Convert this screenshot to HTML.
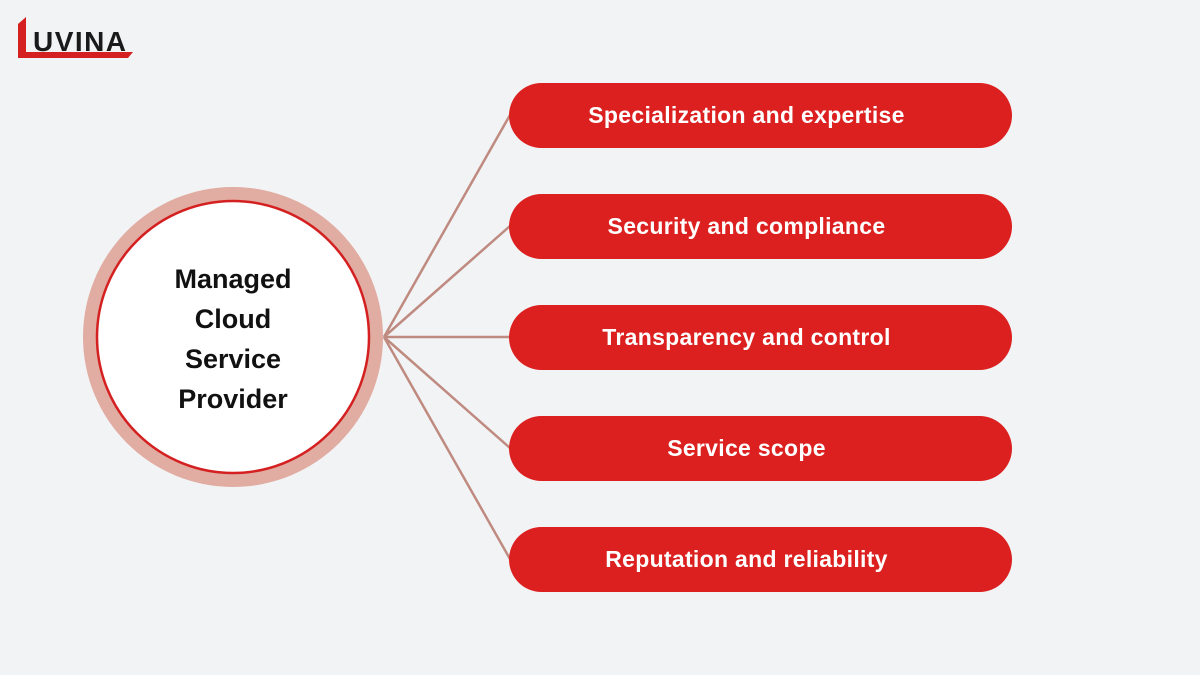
<!DOCTYPE html>
<html><head><style>
body{margin:0;width:1200px;height:675px;background:#f2f3f5;position:relative;overflow:hidden;font-family:"Liberation Sans",sans-serif}
.pill{position:absolute;left:509px;width:503px;height:65px;border-radius:33px;background:#dc1f1f;color:#fff;font-weight:bold;font-size:23px;display:flex;align-items:center;justify-content:center;letter-spacing:0.3px;box-sizing:border-box;padding-right:28px}
</style></head><body>
<svg width="1200" height="675" style="position:absolute;left:0;top:0">
<polygon points="18,24 26,17 26,52 133,52 128,58 18,58" fill="#d42020"/>
<text x="33" y="51" font-family="Liberation Sans" font-weight="bold" font-size="28" fill="#1a1a1a" letter-spacing="1" textLength="94">UVINA</text>
<g stroke="#bf8a80" stroke-width="2.5">
<line x1="384" y1="337" x2="510" y2="115"/>
<line x1="384" y1="337" x2="510" y2="226"/>
<line x1="384" y1="337" x2="510" y2="337"/>
<line x1="384" y1="337" x2="510" y2="448"/>
<line x1="384" y1="337" x2="510" y2="559"/>
</g>
<circle cx="233" cy="337" r="150" fill="#e1aca1"/>
<circle cx="233" cy="337" r="136" fill="#fff" stroke="#d42020" stroke-width="2.5"/>
<g font-family="Liberation Sans" font-weight="bold" font-size="27" fill="#111" text-anchor="middle">
<text x="233" y="288">Managed</text>
<text x="233" y="328">Cloud</text>
<text x="233" y="368">Service</text>
<text x="233" y="408">Provider</text>
</g>
</svg>
<div class="pill" style="top:83px">Specialization and expertise</div>
<div class="pill" style="top:194px">Security and compliance</div>
<div class="pill" style="top:305px">Transparency and control</div>
<div class="pill" style="top:416px">Service scope</div>
<div class="pill" style="top:527px">Reputation and reliability</div>
</body></html>
